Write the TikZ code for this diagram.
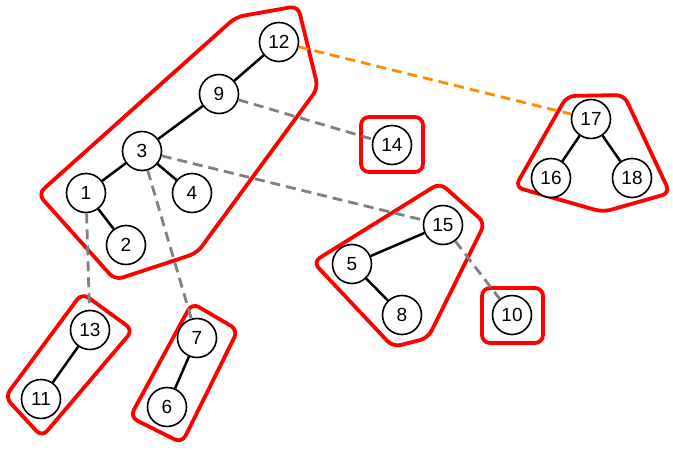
\documentclass[tikz,border=0pt]{standalone}
\usepackage{fontspec}
\setmainfont{Liberation Sans}
\definecolor{linkgray}{RGB}{128,128,128}
\definecolor{linkorange}{RGB}{255,140,0}
\definecolor{groupred}{RGB}{255,0,0}
\usepackage{tikz}

\begin{document}
\begin{tikzpicture}[x=1pt,y=-1pt]

%
% Styles
%
\tikzstyle{vertex} = [circle,draw=black,fill=white,line width=1.6pt,minimum size=39pt,inner sep=0pt,font=\fontsize{19}{19}\selectfont]
\tikzstyle{tree}   = [line width=2.5pt]
\tikzstyle{link}   = [draw=linkgray,dash pattern=on 10pt off 6pt,line width=2.8pt]
\tikzstyle{far}    = [draw=linkorange,dash pattern=on 10pt off 6pt,line width=2.8pt]
\tikzstyle{group}  = [draw=groupred,line width=3.8pt,rounded corners=8pt]

\useasboundingbox (0,0) rectangle (673,450);

% groups
\draw[group] (38,194) -- (236,17) -- (298,6) -- (318,88) -- (197,253) -- (115,280) -- cycle;
\draw[group] (313,262) -- (440,183) -- (485,223) -- (428,338) -- (393,347) -- cycle;
\draw[group] (515,187) -- (567,96) -- (624,95) -- (670,193) -- (603,212) -- cycle;
\draw[group] (361,117) rectangle (423,172);
\draw[group] (482,288) rectangle (543,343);
\draw[group] (82,293) -- (133,330) -- (42,437) -- (5,397) -- cycle;
\draw[group] (192,303) -- (238,330) -- (182,443) -- (130,417) -- cycle;

% vertices
\node[vertex] (n12) at (279, 42)  {12};
\node[vertex] (n9)  at (219, 94)  {9};
\node[vertex] (n3)  at (142,151)  {3};
\node[vertex] (n1)  at ( 86,193)  {1};
\node[vertex] (n4)  at (192,193)  {4};
\node[vertex] (n2)  at (126,245)  {2};
\node[vertex] (n14) at (392,145)  {14};
\node[vertex] (n17) at (591,119)  {17};
\node[vertex] (n16) at (551,178)  {16};
\node[vertex] (n18) at (632,178)  {18};
\node[vertex] (n15) at (443,225)  {15};
\node[vertex] (n5)  at (352,264)  {5};
\node[vertex] (n8)  at (402,315)  {8};
\node[vertex] (n10) at (512,315)  {10};
\node[vertex] (n13) at ( 90,330)  {13};
\node[vertex] (n11) at ( 41,399)  {11};
\node[vertex] (n7)  at (197,338)  {7};
\node[vertex] (n6)  at (167,407)  {6};

% tree edges
\draw[tree] (n12) -- (n9);
\draw[tree] (n9)  -- (n3);
\draw[tree] (n3)  -- (n1);
\draw[tree] (n3)  -- (n4);
\draw[tree] (n1)  -- (n2);
\draw[tree] (n17) -- (n16);
\draw[tree] (n17) -- (n18);
\draw[tree] (n15) -- (n5);
\draw[tree] (n5)  -- (n8);
\draw[tree] (n13) -- (n11);
\draw[tree] (n7)  -- (n6);

% links
\draw[link] (n9)  -- (n14);
\draw[link] (n3)  -- (n15);
\draw[link] (n3)  -- (n7);
\draw[link] (n1)  -- (n13);
\draw[link] (n15) -- (n10);
\draw[far]  (n12) -- (n17);

\end{tikzpicture}
\end{document}
